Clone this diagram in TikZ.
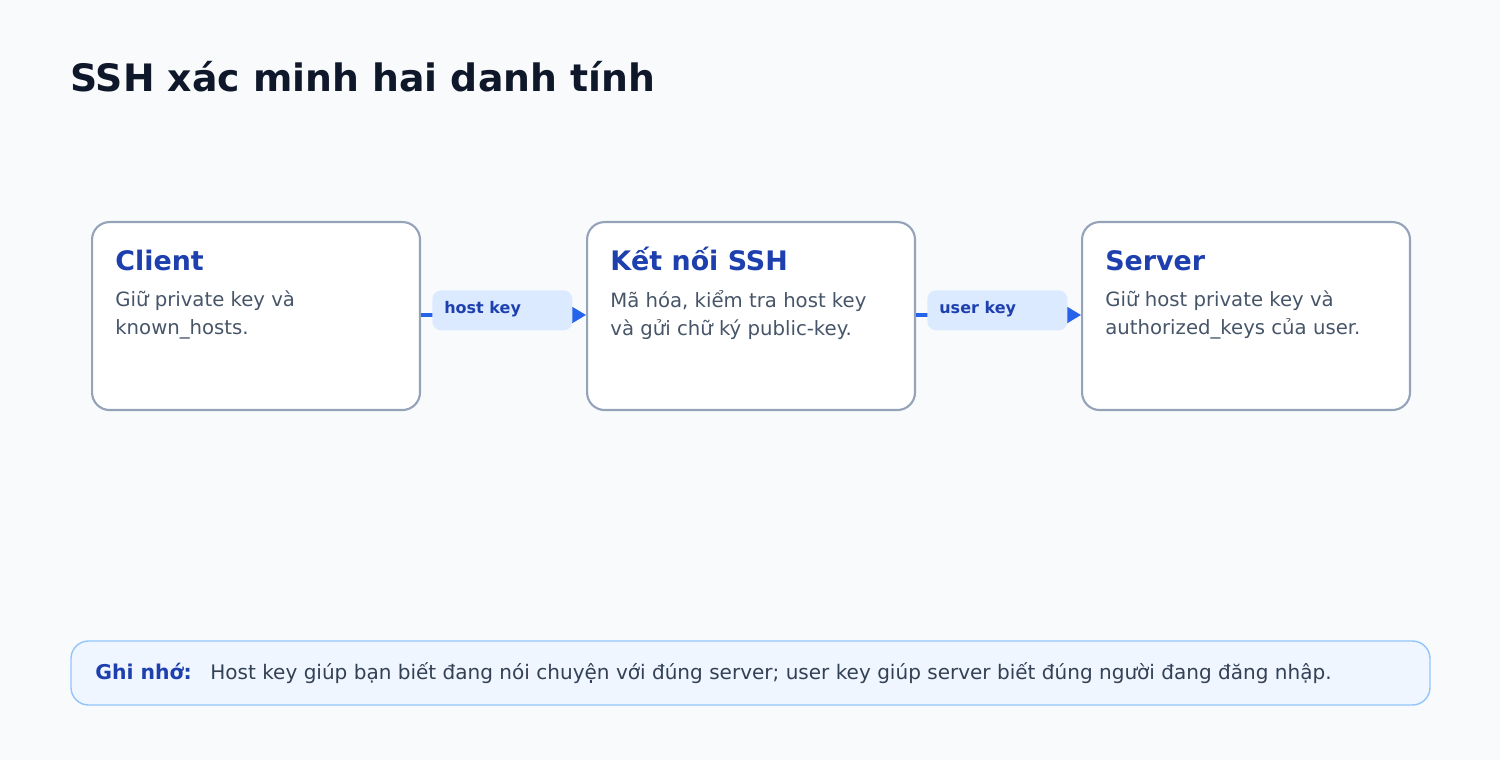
\documentclass[tikz,border=0pt]{standalone}
\usepackage{fontspec}
\setmainfont{DejaVu Sans}
\usetikzlibrary{arrows.meta,positioning}
\definecolor{clbg}{HTML}{F8FAFC}
\definecolor{clborder}{HTML}{94A3B8}
\definecolor{cltitle}{HTML}{0F172A}
\definecolor{clhead}{HTML}{1E40AF}
\definecolor{clbody}{HTML}{475569}
\definecolor{clarrow}{HTML}{2563EB}
\definecolor{cllabel}{HTML}{DBEAFE}
\definecolor{clnote}{HTML}{EFF6FF}
\definecolor{clnoteborder}{HTML}{93C5FD}
\definecolor{clnotetext}{HTML}{334155}
\tikzset{
  box/.style={draw=clborder, line width=1.2pt, fill=white, rounded corners=10pt,
    minimum width=6.56cm, minimum height=3.76cm, anchor=north west},
  boxhead/.style={anchor=base west, font=\fontsize{15.3}{17}\selectfont\bfseries, text=clhead, inner sep=0pt},
  boxbody/.style={anchor=north west, font=\fontsize{11.2}{16}\selectfont, text=clbody, inner sep=0pt, align=left},
  line/.style={draw=clarrow, line width=2.5pt, -{Stealth[length=11pt,width=13pt]}},
  edgelabel/.style={fill=cllabel, rounded corners=5pt, minimum width=2.8cm, minimum height=0.8cm, inner sep=0pt},
  labeltext/.style={anchor=base west, inner sep=0pt, font=\fontsize{9.1}{11}\selectfont\bfseries, text=clhead}
}
\begin{document}
\begin{tikzpicture}[x=0.02cm, y=-0.02cm]
  \fill[clbg] (0,0) rectangle (1500,760);
  \useasboundingbox (0,0) rectangle (1500,760);
  \node[anchor=base west, inner sep=0pt, font=\fontsize{21.5}{25}\selectfont\bfseries, text=cltitle] (title) at (70,92) {SSH xác minh hai danh tính};

  \node[box] (client) at (91,221) {};
  \node[box] (conn) at (586,221) {};
  \node[box] (server) at (1081,221) {};

  \node[boxhead] (clienthead) at (115,270) {Client};
  \node[boxbody] (clientbody) at (115,290) {Giữ private key và\\known\_hosts.};
  \node[boxhead] (connhead) at (610,270) {Kết nối SSH};
  \node[boxbody] (connbody) at (610,290) {Mã hóa, kiểm tra host key\\và gửi chữ ký public-key.};
  \node[boxhead] (serverhead) at (1105,270) {Server};
  \node[boxbody] (serverbody) at (1105,290) {Giữ host private key và\\authorized\_keys của user.};

  \path[line] (client.east |- 0,315) -- (conn.west |- 0,315);
  \path[line] (conn.east |- 0,315) -- (server.west |- 0,315);
  \node[edgelabel, anchor=north west] (hostkey) at (432,290) {};
  \node[labeltext] at (444,313) {host key};
  \node[edgelabel, anchor=north west] (userkey) at (927,290) {};
  \node[labeltext] at (939,313) {user key};

  \draw[clnoteborder, fill=clnote, line width=0.8pt, rounded corners=10pt] (71,641) rectangle (1430,705);
  \node[anchor=base west, inner sep=0pt, font=\fontsize{11.6}{13}\selectfont\bfseries, text=clhead] (notehead) at (95,679) {Ghi nhớ:};
  \node[anchor=base west, inner sep=0pt, font=\fontsize{11.4}{13}\selectfont, text=clnotetext] (notetext) at (210,679) {Host key giúp bạn biết đang nói chuyện với đúng server; user key giúp server biết đúng người đang đăng nhập.};
\end{tikzpicture}
\end{document}
